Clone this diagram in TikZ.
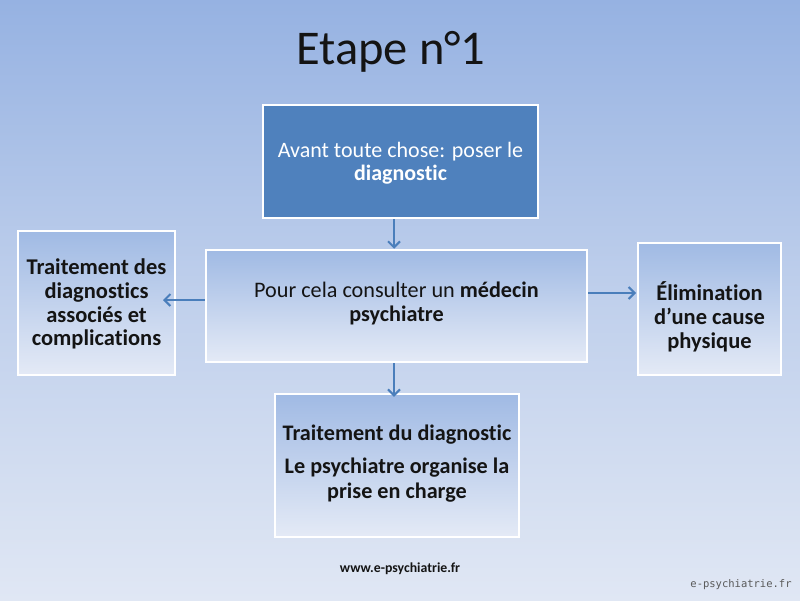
\documentclass[tikz,border=0pt]{standalone}
\usepackage{fontspec}
\setmainfont{Carlito}[Ligatures=NoCommon]
\newfontfamily\wmfont{DejaVu Sans Mono}
\usetikzlibrary{arrows.meta}
\definecolor{bgtop}{RGB}{150,178,226}
\definecolor{bgmid}{RGB}{192,208,236}
\definecolor{bgbot}{RGB}{224,231,244}
\definecolor{boxblue}{RGB}{79,129,189}
\definecolor{gradtop}{RGB}{160,186,228}
\definecolor{gradbot}{RGB}{228,234,246}
\definecolor{arrowblue}{RGB}{74,126,187}
\definecolor{txt}{RGB}{20,20,20}
\newcommand{\shiftedtext}[2]{\raisebox{#1}[\height][\depth]{\begin{tabular}{@{}c@{}}#2\end{tabular}}}
\tikzset{
  boxbase/.style={draw=white, line width=2.5pt, inner sep=0pt, text=txt},
  solidbox/.style={boxbase, fill=boxblue, text=white},
  gradbox/.style={boxbase, top color=gradtop, bottom color=gradbot},
  arr/.style={draw=arrowblue, line width=2pt, -{Straight Barb[length=6pt,width=12pt,line width=2pt]}},
}
\begin{document}
\begin{tikzpicture}[x=1pt,y=-1pt]
\useasboundingbox (0,0) rectangle (800,600);
\shade[top color=bgtop, bottom color=bgbot, middle color=bgmid] (0,0) rectangle (800,600);
\node[font=\fontsize{48.5}{55}\selectfont, text=txt] (title) at (391,52) {Etape n°1};
\node[solidbox, minimum width=275pt, minimum height=113pt, font=\fontsize{22}{23.5}\selectfont] (top) at (400.5,161.5)
  {\shiftedtext{-3pt}{Avant toute chose: poser le\\\textbf{diagnostic}}};
\node[gradbox, minimum width=381pt, minimum height=112pt, font=\fontsize{22.2}{24}\selectfont] (mid) at (396.5,306)
  {\shiftedtext{1pt}{Pour cela consulter un \textbf{médecin}\\\textbf{psychiatre}}};
\node[gradbox, minimum width=157pt, minimum height=144pt, font=\fontsize{22.5}{23.7}\selectfont\bfseries] (left) at (96.5,303)
  {\shiftedtext{-2.5pt}{Traitement des\\diagnostics\\associés et\\complications}};
\node[gradbox, minimum width=143pt, minimum height=132pt, font=\fontsize{22.5}{24}\selectfont\bfseries] (right) at (709.5,309)
  {\shiftedtext{-9.5pt}{Élimination\\d’une cause\\physique}};
\node[gradbox, minimum width=244pt, minimum height=143pt, font=\fontsize{22.2}{25}\selectfont\bfseries] (bot) at (397,465.5)
  {\shiftedtext{1.5pt}{Traitement du diagnostic\\[8pt]Le psychiatre organise la\\prise en charge}};
\node[font=\fontsize{13.8}{16}\selectfont\bfseries, text=txt] (url) at (400,569) {www.e-psychiatrie.fr};
\node[font=\wmfont\fontsize{10.5}{12}\selectfont, text=black!65] (wm) at (741,585) {e-psychiatrie.fr};
\coordinate (lt) at (163,300);
\coordinate (rt) at (636,293);
\draw[arr] ([xshift=-6.5pt]top.south) -- ([xshift=-6.5pt]top.south |- mid.north);
\draw[arr] (mid.west |- lt) -- (lt);
\draw[arr] (mid.east |- rt) -- (rt);
\draw[arr] ([xshift=-2.5pt]mid.south) -- ([xshift=-2.5pt,yshift=-4pt]mid.south |- bot.north);
\end{tikzpicture}
\end{document}
